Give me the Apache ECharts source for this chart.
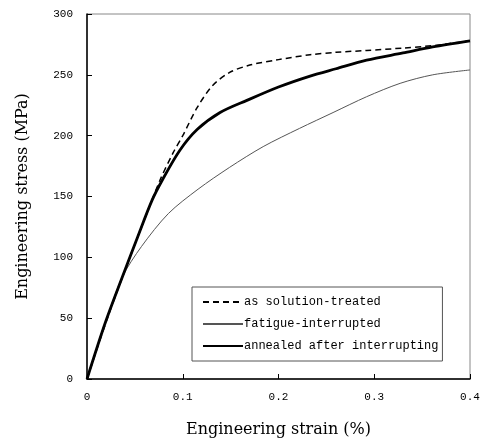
<!DOCTYPE html>
<html><head><meta charset="utf-8">
<script src="https://cdn.jsdelivr.net/npm/echarts@6/dist/echarts.min.js"></script>
<style>html,body{margin:0;padding:0;background:#fff}#c{width:481px;height:442px}</style>
</head><body><div id="c"></div>
<script>
var seriesNames = ['as solution-treated', 'fatigue-interrupted', 'annealed after interrupting'];
var solutionTreated = [[0,0],[0.02,47],[0.04,90],[0.06,131],[0.076,163],[0.09,186],[0.1,200],[0.115,223],[0.131,241],[0.149,252],[0.17,258],[0.2,262.5],[0.233,266.5],[0.26,268.5],[0.292,270],[0.33,272],[0.361,274],[0.4,278]];
var fatigueInterrupted = [[0,0],[0.02,48],[0.037,84],[0.057,109],[0.085,136],[0.116,156],[0.149,174],[0.184,191],[0.222,206],[0.257,219],[0.292,232],[0.327,243],[0.361,250],[0.4,254]];
var annealed = [[0,0],[0.019,46],[0.037,84],[0.053,117],[0.068,147],[0.079,164],[0.097,188],[0.115,205],[0.139,219],[0.167,229],[0.2,240],[0.233,249],[0.26,255],[0.292,262],[0.33,268],[0.361,273],[0.4,278]];
var xTitle = 'Engineering strain (%)';
var yTitle = 'Engineering stress (MPa)';

var chart = echarts.init(document.getElementById('c'));
var mono = 'Liberation Mono';
chart.setOption({
  animation: false,
  backgroundColor: '#fff',
  grid: {left: 87, right: 11, top: 14, bottom: 63, show: true, borderColor: '#888', borderWidth: 1, containLabel: false, outerBoundsMode: 'none'},
  legend: {
    orient: 'vertical', left: 192, top: 287,
    itemWidth: 40, itemHeight: 14, itemGap: 10,
    padding: [9, 4, 9, 10],
    borderColor: '#555', borderWidth: 1, backgroundColor: '#fff',
    itemStyle: {opacity: 0},
    textStyle: {fontFamily: mono, fontSize: 12, color: '#000', padding: [0,0,0,-4]},
    data: seriesNames
  },
  xAxis: {
    type: 'value', min: 0, max: 0.4, interval: 0.1,
    name: xTitle, nameLocation: 'middle', nameGap: 43,
    nameTextStyle: {fontFamily: 'DejaVu Serif', fontSize: 16, color: '#000'},
    axisLine: {onZero: false, lineStyle: {color: '#000', width: 1.5}},
    axisTick: {inside: true, length: 5, lineStyle: {color: '#000'}},
    axisLabel: {fontFamily: mono, fontSize: 11, color: '#000', margin: 13, formatter: function(v){return v===0?'0':v.toFixed(1);}},
    splitLine: {show: false}
  },
  yAxis: {
    type: 'value', min: 0, max: 300, interval: 50,
    name: yTitle, nameLocation: 'middle', nameGap: 56,
    nameTextStyle: {fontFamily: 'DejaVu Serif', fontSize: 16, color: '#000'},
    axisLine: {onZero: false, lineStyle: {color: '#000', width: 1.5}},
    axisTick: {inside: true, length: 5, lineStyle: {color: '#000'}},
    axisLabel: {fontFamily: mono, fontSize: 11, color: '#000', margin: 14},
    splitLine: {show: false}
  },
  series: [
    {name: seriesNames[0], type: 'line', data: solutionTreated, smooth: 0.3, symbol: 'none', showSymbol: false,
     lineStyle: {color: '#000', width: 1.5, type: [6, 4]}, itemStyle: {color: '#000'}, z: 3},
    {name: seriesNames[1], type: 'line', data: fatigueInterrupted, smooth: 0.3, symbol: 'none', showSymbol: false,
     lineStyle: {color: '#555', width: 1}, itemStyle: {color: '#555'}, z: 2},
    {name: seriesNames[2], type: 'line', data: annealed, smooth: 0.3, symbol: 'none', showSymbol: false,
     lineStyle: {color: '#000', width: 2.8}, itemStyle: {color: '#000'}, z: 4}
  ]
});
</script></body></html>
